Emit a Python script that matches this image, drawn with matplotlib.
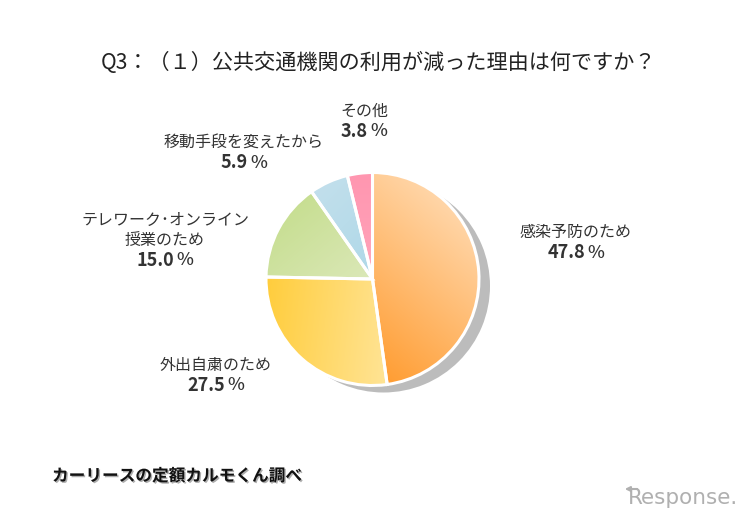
import numpy as np
import matplotlib
matplotlib.use("Agg")
import matplotlib.pyplot as plt
import matplotlib.patheffects as pe
from matplotlib.colors import LinearSegmentedColormap

plt.rcParams['font.family'] = ['Noto Sans CJK JP', 'DejaVu Sans']

categories = ["感染予防のため", "外出自粛のため", "テレワーク･オンライン\n授業のため", "移動手段を変えたから", "その他"]
values = [47.8, 27.5, 15.0, 5.9, 3.8]
value_labels = ["47.8", "27.5", "15.0", "5.9", "3.8"]
title = "Q3：（１）公共交通機関の利用が減った理由は何ですか？"
source = "カーリースの定額カルモくん調べ"

# start colour, end colour, gradient direction (dx, dy), y is up
gradients = [
    ("#ff9a2c", "#ffe4c6", (0.45, 1.0)),
    ("#ffcd3c", "#ffe496", (1.0, -0.1)),
    ("#c2dc88", "#dbe8b8", (0.7, -0.7)),
    ("#c4e0ec", "#aed8e8", (0.5, -0.8)),
    ("#ff96b0", "#ffa4ba", (0.0, -1.0)),
]
label_pos = [(576, 232.5), (216, 365.5), (165, 230.5), (244, 142.5), (364, 111.5)]

W, H = 750, 520
cx, cy, r = 372.5, H - 279, 106.5


def gradient_img(c0, c1, d, n=200):
    u = np.linspace(-1, 1, n)
    xx, yy = np.meshgrid(u, u)
    t = xx * d[0] + yy * d[1]
    t = (t - t.min()) / (t.max() - t.min())
    return LinearSegmentedColormap.from_list("g", [c0, c1])(t)


fig = plt.figure(figsize=(7.5, 5.2), dpi=100)
ax = fig.add_axes([0, 0, 1, 1])

# shadow
ax.pie([1], center=(cx + 11, cy - 7), radius=r, colors=["#bcbcbc"])
wedges, _ = ax.pie(values, center=(cx, cy), radius=r, startangle=90, counterclock=False,
                   wedgeprops={"edgecolor": "none"})

for w, (c0, c1, d) in zip(wedges, gradients):
    # グラデーションは扇形の範囲に合わせる
    pts = w.get_patch_transform().transform(w.get_path().vertices)
    x0, y0 = pts.min(axis=0)
    x1, y1 = pts.max(axis=0)
    img = ax.imshow(gradient_img(c0, c1, d), extent=(x0, x1, y0, y1),
                    origin="lower", zorder=2, aspect="auto")
    img.set_clip_path(w)
    w.set_facecolor("none")
    w.set_edgecolor("white")
    w.set_linewidth(2.2)
    w.set_zorder(3)

ax.set_xlim(0, W)
ax.set_ylim(0, H)
ax.set_aspect("equal")
ax.axis("off")

ax.text(379, H - 63, title, ha="center", va="center", fontsize=15.2, color="#222222")

for cat, lab, (x, y) in zip(categories, value_labels, label_pos):
    n = cat.count("\n") + 1
    ax.text(x, H - y, cat, ha="center", va="center", fontsize=11.5, color="#333333", linespacing=1.2)
    t = ax.text(x - 9.5, H - y - 9.5 * n - 10.5, lab, ha="center", va="center", fontsize=13,
                fontweight="bold", color="#333333")
    ax.annotate("%", xy=(1, 0.5), xycoords=t, xytext=(1.5, 0), textcoords="offset points",
                ha="left", va="center", fontsize=13, fontweight="medium", color="#333333")

ax.text(52, H - 476, source, ha="left", va="center", fontsize=12, fontweight="bold", color="#111111",
        path_effects=[pe.withSimplePatchShadow(offset=(1, -1), shadow_rgbFace="#777777", alpha=0.6)])

# ロゴ
ax.text(738, H - 498, "Response.", ha="right", va="center", fontsize=15.5, color="#b0b0b0",
        family=["DejaVu Sans"])
ax.annotate("", xy=(622, H - 489), xytext=(640, H - 489),
            arrowprops={"arrowstyle": "-|>", "color": "#b0b0b0", "lw": 1.5, "mutation_scale": 7})

fig.savefig("out.png", dpi=100)
